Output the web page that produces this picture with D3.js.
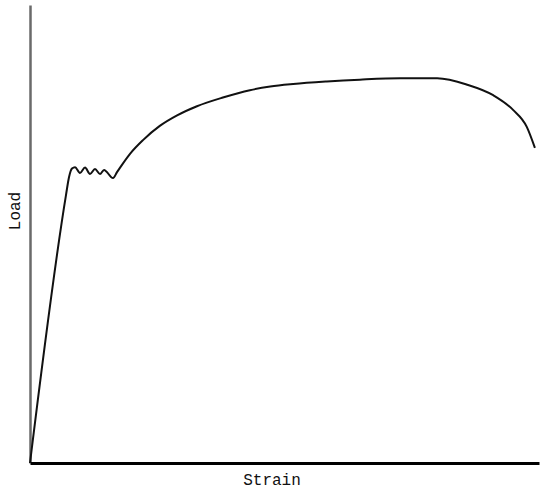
<!DOCTYPE html>
<html>
<head>
<meta charset="utf-8">
<script src="https://cdn.jsdelivr.net/npm/d3@7"></script>
<style>
  html, body { margin: 0; padding: 0; background: #fff; }
  svg { display: block; }
</style>
</head>
<body>
<svg id="chart" width="544" height="489"></svg>
<script>
// Load-strain curve (relative units, 0-100)
const strain = [0, 7.07, 7.66, 8.25, 8.84, 9.82, 10.81, 11.79, 12.77, 13.75, 14.54, 16.31, 17.09, 18.07, 19.65, 22.2, 25.5, 28.9, 32.8, 37.9, 43.2, 47.2, 51.7, 58.3, 64.8, 72.7, 80.0, 85.9, 91.0, 94.9, 97.6, 99.2];
const load   = [0, 58.5, 62.4, 64.3, 64.6, 63.3, 64.5, 63.1, 64.2, 63.1, 64.0, 62.2, 63.5, 65.1, 67.5, 70.5, 73.6, 75.9, 77.9, 79.8, 81.4, 82.2, 82.75, 83.3, 83.7, 84.0, 84.0, 82.6, 80.3, 77.1, 73.4, 68.8];
const xLabel = "Strain";
const yLabel = "Load";

const svg = d3.select("#chart");
const x = d3.scaleLinear().domain([0, 100]).range([30, 539]);
const y = d3.scaleLinear().domain([0, 100]).range([463, 5]);

const pts = strain.map((s, i) => [s, load[i]]);

// Y axis (vertical line only)
svg.append("g")
  .attr("transform", `translate(${x(0)},0)`)
  .call(d3.axisLeft(y).ticks(0).tickSize(0))
  .call(g => g.select(".domain").attr("stroke", "#6a6a6a").attr("stroke-width", 2.5));

// X axis (horizontal line only)
svg.append("g")
  .attr("transform", `translate(0,${y(0)})`)
  .call(d3.axisBottom(x).ticks(0).tickSize(0))
  .call(g => g.select(".domain").attr("stroke", "#000").attr("stroke-width", 3));

// Curve
const line = d3.line()
  .x(d => x(d[0]))
  .y(d => y(d[1]))
  .curve(d3.curveMonotoneX);

svg.append("path")
  .datum(pts)
  .attr("fill", "none")
  .attr("stroke", "#111")
  .attr("stroke-width", 2)
  .attr("stroke-linejoin", "round")
  .attr("d", line);

// Labels
svg.append("text")
  .attr("x", 272)
  .attr("y", 485)
  .attr("text-anchor", "middle")
  .attr("font-family", "Liberation Mono, DejaVu Sans Mono, monospace")
  .attr("font-size", 16)
  .attr("fill", "#111")
  .text(xLabel);

svg.append("text")
  .attr("transform", "translate(20,211) rotate(-90)")
  .attr("text-anchor", "middle")
  .attr("font-family", "Liberation Mono, DejaVu Sans Mono, monospace")
  .attr("font-size", 16)
  .attr("fill", "#111")
  .text(yLabel);
</script>
</body>
</html>
